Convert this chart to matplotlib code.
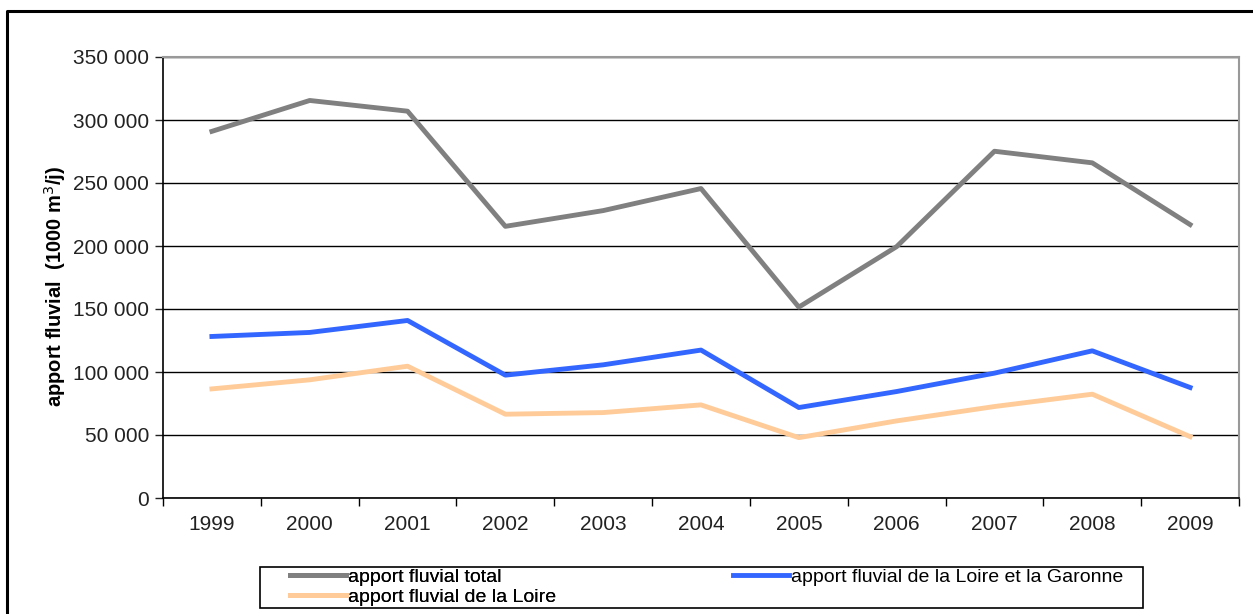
import matplotlib.pyplot as plt
from matplotlib.lines import Line2D
from matplotlib.patches import Rectangle
from matplotlib.ticker import FuncFormatter, MultipleLocator

# data
years = ["1999", "2000", "2001", "2002", "2003", "2004", "2005", "2006", "2007", "2008", "2009"]
total = [291000, 315500, 307000, 215600, 228100, 245600, 151500, 199500, 275200, 266000, 217000]
loire_garonne = [128200, 131400, 140900, 97500, 105700, 117400, 71800, 84500, 99100, 116800, 87700]
loire = [86600, 93800, 104600, 66500, 67800, 73900, 47900, 61200, 72600, 82400, 48700]

plt.rcParams['font.family'] = ['Liberation Sans', 'DejaVu Sans']

W, H = 1253, 614
fig = plt.figure(figsize=(W / 100, H / 100), dpi=100)
ax = fig.add_axes([163 / W, 1 - 498 / H, (1239 - 163) / W, (498 - 57) / H])

x = list(range(len(years)))
l_tot, = ax.plot(x, total, color="#808080", lw=3.5, label="apport fluvial total")
l_lg, = ax.plot(x, loire_garonne, color="#3366FF", lw=3.5,
                label="apport fluvial de la Loire et la Garonne")
l_lo, = ax.plot(x, loire, color="#FFCC99", lw=3.5, label="apport fluvial de la Loire")

ax.set_xlim(-0.5, len(years) - 0.5)
ax.set_ylim(0, 350000)

# y axis
ax.yaxis.set_major_locator(MultipleLocator(50000))
ax.yaxis.set_major_formatter(FuncFormatter(lambda v, p: f"{int(v):,}".replace(",", " ")))
ax.grid(axis="y", color="black", lw=1)
ax.set_axisbelow(True)

# x axis: labels centred, ticks at category boundaries
ax.set_xticks(x)
ax.set_xticklabels(years)
ax.set_xticks([i - 0.5 for i in range(len(years) + 1)], minor=True)
ax.tick_params(axis="x", which="major", length=0, pad=12)
ax.tick_params(axis="x", which="minor", length=6, width=1, direction="out")
ax.tick_params(axis="y", length=6, width=1, direction="out", pad=4)
ax.tick_params(labelsize=15, colors="#222222")

for s in ["left", "bottom"]:
    ax.spines[s].set_color("black")
    ax.spines[s].set_linewidth(1.2)
for s in ["top", "right"]:
    ax.spines[s].set_color("#999999")
    ax.spines[s].set_linewidth(1.5)

ax.set_ylabel("apport fluvial  (1000 m$^3$/j)", fontsize=14.5, fontweight="bold")
ax.yaxis.set_label_coords(-0.088, 0.48)

# legend box drawn by hand, two frameless legends inside it
fig.add_artist(Rectangle((260 / W, 1 - 608 / H), (1143 - 260) / W, 41 / H,
                         transform=fig.transFigure, fill=False, ec="black", lw=1.2))
kw = dict(frameon=False, fontsize=14, handlelength=2.9, handletextpad=0.1,
          labelspacing=0.12, borderpad=0, borderaxespad=0, loc="upper left")
leg1 = fig.legend([l_tot, l_lo], [l_tot.get_label(), l_lo.get_label()],
                  bbox_to_anchor=(290 / W, 1 - 568 / H), **kw)
fig.add_artist(leg1)
fig.legend([l_lg], [l_lg.get_label()], bbox_to_anchor=(733 / W, 1 - 568 / H), **kw)

# outer frame (top and left edges visible)
fig.add_artist(Line2D([7 / W, 7 / W, 1.0], [0.0, 1 - 11 / H, 1 - 11 / H],
                      transform=fig.transFigure, color="black", lw=2.2))

fig.savefig("out.png", dpi=100)
